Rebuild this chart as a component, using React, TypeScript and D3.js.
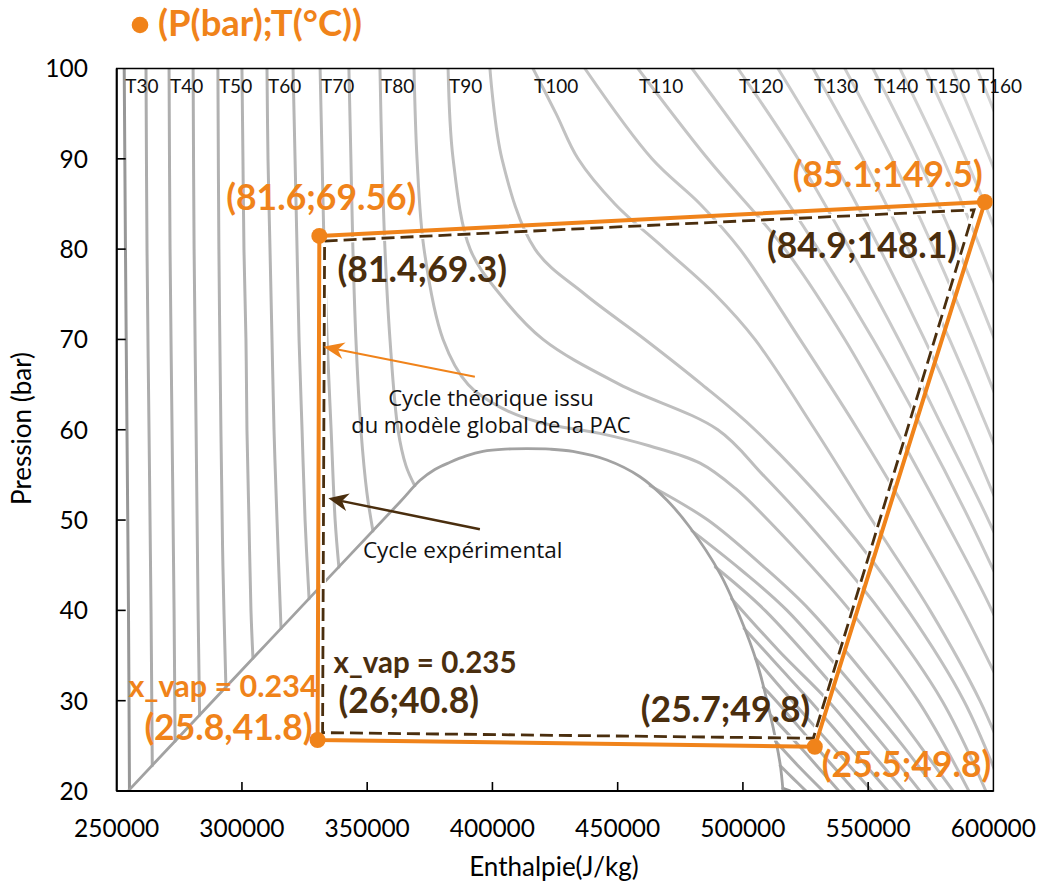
import React from 'react';
import * as d3 from 'd3';

type Pt = [number, number];

// ---------- axes ----------
const H_DOMAIN: [number, number] = [250000, 600000];
const P_DOMAIN: [number, number] = [20, 100];
const xTicks = [250000, 300000, 350000, 400000, 450000, 500000, 550000, 600000];
const yTicks = [20, 30, 40, 50, 60, 70, 80, 90, 100];
const labeledT = [30, 40, 50, 60, 70, 80, 90, 100, 110, 120, 130, 140, 150, 160];

// ---------- saturation dome (h J/kg, P bar) ----------
const dome: Pt[] = [
  [254900, 20.1], [300000, 33.4], [340000, 45.2], [363100, 52.0], [371100, 54.4], [377000, 55.6],
  [383100, 56.4], [389500, 57.1], [396200, 57.6], [405000, 57.85], [413800, 57.9], [423000, 57.85],
  [432100, 57.6], [445700, 56.65], [458900, 54.8], [469700, 52.2],
  [478800, 49.2], [490800, 44.1], [498800, 39.3], [505600, 34.2], [510800, 28.6], [514800, 23.1], [516000, 20],
];

// ---------- isotherms (each: list of segments of [h, P]) ----------
const iso30: Pt[][] = [
  [[253000, 100], [253500, 80], [254100, 60], [254700, 40], [255100, 20]],
  [[516000, 20.3], [518800, 20]],
];
const iso35: Pt[][] = [
  [[261700, 100], [262100, 80], [262900, 60], [263700, 40], [264200, 22.8]],
  [[514900, 22.8], [520000, 21.4], [525200, 20]],
];
const iso40: Pt[][] = [
  [[270900, 100], [271300, 80], [272100, 60], [272900, 40], [273300, 25.5]],
  [[513000, 25.5], [522000, 22.8], [532000, 20]],
];
const iso45: Pt[][] = [
  [[280500, 100], [280900, 80], [281700, 60], [282500, 40], [283100, 28.4]],
  [[511000, 28.4], [522400, 25], [538300, 20]],
];
const iso50: Pt[][] = [
  [[290400, 100], [290800, 80], [291600, 60], [292400, 45], [293600, 31.5]],
  [[508100, 31.5], [513200, 30], [528800, 25], [544700, 20]],
];
const iso55: Pt[][] = [
  [[300000, 100], [300400, 90], [300800, 80], [301600, 70], [302000, 60], [302800, 50], [303600, 40], [304400, 34.7]],
  [[505000, 34.7], [519600, 30], [535500, 25], [551500, 20]],
];
const iso60: Pt[][] = [
  [[310000, 100], [310400, 90], [311200, 80], [312000, 70], [312800, 60], [314000, 50], [315600, 38]],
  [[500500, 38], [513600, 34], [526800, 30], [542300, 25], [557900, 20]],
];
const iso65: Pt[][] = [
  [[320400, 100], [321200, 90], [322000, 80], [322800, 70], [324000, 60], [325200, 50], [326800, 41.3]],
  [[495500, 41.3], [514400, 35.5], [534000, 30], [549100, 25], [564300, 20]],
];
const iso70: Pt[][] = [
  [[331200, 100], [332000, 90], [332800, 80], [334000, 70], [335600, 60], [337200, 50], [338700, 44.8]],
  [[489000, 44.8], [508800, 40], [541100, 30], [556300, 25], [570700, 20]],
];
const iso75: Pt[][] = [
  [[342700, 100], [343500, 90], [344300, 80], [345500, 70], [347500, 60], [349900, 53], [352300, 48.8]],
  [[479700, 48.8], [499200, 44.5], [517600, 40], [549100, 30], [563900, 25], [577500, 20]],
];
const iso80: Pt[][] = [
  [[355100, 100], [355900, 90], [357100, 80], [359100, 70], [362300, 60], [365500, 56], [369000, 53.8]],
  [[463000, 53.8], [486000, 50], [507600, 45], [526800, 40], [557100, 30], [570700, 25], [583900, 20]],
];
const iso85: Pt[][] = [
  [[368700, 100], [369900, 90], [372700, 80], [380300, 70], [390300, 65], [403000, 62.5], [419000, 60.8],
   [442900, 59.6], [462900, 58.2], [482900, 56.3], [497000, 53.5], [510000, 50], [542700, 40], [569900, 30], [590200, 20]],
];
const iso90: Pt[][] = [
  [[382300, 100], [384300, 90], [391100, 80], [403000, 75], [420200, 70], [450900, 65], [490000, 60],
   [508000, 55], [524800, 50], [554700, 40], [579500, 30], [597000, 20]],
];
const iso95: Pt[][] = [
  [[399000, 100], [403800, 90], [417000, 80], [436900, 75], [460900, 70], [483700, 65], [504800, 60],
   [538700, 50], [565900, 40], [588200, 30], [603800, 20]],
];
const iso100: Pt[][] = [
  [[416200, 100], [425400, 95], [434200, 90], [448900, 85], [468900, 80], [488800, 75], [504800, 70],
   [528800, 60], [551500, 50], [574700, 40], [594600, 30], [609800, 20]],
];
const iso105: Pt[][] = [
  [[436900, 100], [463700, 90], [482900, 85], [498800, 80], [522800, 70], [545900, 60], [567500, 50], [587800, 40], [605800, 30]],
];
const iso110: Pt[][] = [
  [[458100, 100], [486000, 90], [516800, 80], [540700, 70], [561100, 60], [580700, 50], [599400, 40], [614600, 30]],
];
const iso115: Pt[][] = [
  [[479700, 100], [506000, 90], [530000, 80], [552000, 70], [572000, 60], [590500, 50], [607500, 40]],
];
const iso120: Pt[][] = [
  [[498000, 100], [522000, 90], [542700, 80], [562200, 70], [580200, 60], [598000, 50], [614000, 40]],
];
const iso125: Pt[][] = [
  [[514000, 100], [535500, 90], [554700, 80], [572500, 70], [589000, 60], [604300, 50]],
];
const iso130: Pt[][] = [
  [[528000, 100], [547900, 90], [565900, 80], [582500, 70], [597900, 60], [612200, 50]],
];
const iso135: Pt[][] = [
  [[540700, 100], [559500, 90], [576300, 80], [591800, 70], [606200, 60]],
];
const iso140: Pt[][] = [
  [[551900, 100], [569900, 90], [585800, 80], [600500, 70], [614200, 60]],
];
const iso145: Pt[][] = [
  [[562700, 100], [579900, 90], [595000, 80], [609000, 70]],
];
const iso150: Pt[][] = [
  [[572700, 100], [589000, 90], [603800, 80], [617400, 70]],
];
const iso155: Pt[][] = [
  [[583500, 100], [598600, 90], [612600, 80]],
];
const iso160: Pt[][] = [
  [[593400, 100], [607800, 90], [621000, 80]],
];

const isotherms: { T: number; segs: Pt[][] }[] = [
  { T: 30, segs: iso30 }, { T: 35, segs: iso35 }, { T: 40, segs: iso40 }, { T: 45, segs: iso45 },
  { T: 50, segs: iso50 }, { T: 55, segs: iso55 }, { T: 60, segs: iso60 }, { T: 65, segs: iso65 },
  { T: 70, segs: iso70 }, { T: 75, segs: iso75 }, { T: 80, segs: iso80 }, { T: 85, segs: iso85 },
  { T: 90, segs: iso90 }, { T: 95, segs: iso95 }, { T: 100, segs: iso100 }, { T: 105, segs: iso105 },
  { T: 110, segs: iso110 }, { T: 115, segs: iso115 }, { T: 120, segs: iso120 }, { T: 125, segs: iso125 },
  { T: 130, segs: iso130 }, { T: 135, segs: iso135 }, { T: 140, segs: iso140 }, { T: 145, segs: iso145 },
  { T: 150, segs: iso150 }, { T: 155, segs: iso155 }, { T: 160, segs: iso160 },
];

// ---------- cycles: [top-left, top-right, bottom-right, bottom-left] ----------
const theoCycle: Pt[] = [[330900, 81.46], [596600, 85.22], [528700, 24.9], [330200, 25.65]];
const expCycle: Pt[] = [[333000, 80.9], [592300, 84.35], [528100, 25.84], [332200, 26.46]];
const theoLabels = ['(81.6;69.56)', '(85.1;149.5)', '(25.5;49.8)', '(25.8,41.8)'];
const expLabels = ['(81.4;69.3)', '(84.9;148.1)', '(25.7;49.8)', '(26;40.8)'];
const theoQuality = 'x_vap = 0.234';
const expQuality = 'x_vap = 0.235';
const legendLabel = '(P(bar);T(°C))';

// ---------- annotations ----------
const theoNote = ['Cycle théorique issu', 'du modèle global de la PAC'];
const expNote = 'Cycle expérimental';
const theoArrow: Pt[] = [[393000, 65.88], [332500, 69.2]];
const expArrow: Pt[] = [[395000, 48.98], [334500, 52.41]];

export default function App() {
  const W = 1044, H = 886;
  const L = 116.7, R = 993.4, T = 68.5, B = 791;
  const x = d3.scaleLinear().domain(H_DOMAIN).range([L, R]);
  const y = d3.scaleLinear().domain(P_DOMAIN).range([B, T]);
  const curve = d3.line<Pt>().x(d => x(d[0])).y(d => y(d[1])).curve(d3.curveCatmullRom.alpha(0.5));
  const poly = d3.line<Pt>().x(d => x(d[0])).y(d => y(d[1])).curve(d3.curveLinearClosed);
  const grey = d3.scaleLinear<string>().domain([30, 35, 160]).range(['#979797', '#acacac', '#d6d6d6']).interpolate(d3.interpolateRgb);

  const ORANGE = '#F0831A';
  const BROWN = '#4A2E0E';
  const fC = 'Lato, "Noto Sans", sans-serif';
  const fA = '"Open Sans", "Noto Sans", sans-serif';

  const tp = theoCycle.map(d => [x(d[0]), y(d[1])]);
  const ep = expCycle.map(d => [x(d[0]), y(d[1])]);

  const arrow = (a: Pt[], color: string, w: number, len: number, half: number) => {
    const x1 = x(a[0][0]), y1 = y(a[0][1]), x2 = x(a[1][0]), y2 = y(a[1][1]);
    const dx = x2 - x1, dy = y2 - y1, n = Math.hypot(dx, dy);
    const ux = dx / n, uy = dy / n, px = -uy, py = ux;
    const bx = x2 - ux * len, by = y2 - uy * len;
    const nx = x2 - ux * len * 0.7, ny = y2 - uy * len * 0.7;
    const head = `M${x2},${y2}L${bx + px * half},${by + py * half}L${nx},${ny}L${bx - px * half},${by - py * half}Z`;
    return (
      <g>
        <line x1={x1} y1={y1} x2={nx} y2={ny} stroke={color} strokeWidth={w} />
        <path d={head} fill={color} />
      </g>
    );
  };

  return (
    <svg width={W} height={H} style={{ position: 'absolute', left: 0, top: 0, background: '#fff' }}>
      <defs>
        <clipPath id="plot">
          <rect x={L} y={T} width={R - L} height={B - T} />
        </clipPath>
      </defs>
      <rect x={0} y={0} width={W} height={H} fill="#fff" />

      {/* isotherms */}
      <g clipPath="url(#plot)" fill="none" strokeWidth={3} strokeLinecap="round">
        {isotherms.map(iso =>
          iso.segs.map((s, i) => (
            <path key={`${iso.T}-${i}`} d={curve(s) || ''} stroke={grey(iso.T)} />
          ))
        )}
        <path d={curve(dome) || ''} stroke="#a2a2a2" strokeWidth={2.8} />
      </g>

      {/* isotherm labels */}
      {isotherms.filter(d => labeledT.includes(d.T)).map(d => (
        <text key={d.T} x={x(d.segs[0][0][0]) + 1} y={T + 24.5} fontFamily={fC} fontSize={19} fill="#111">
          {`T${d.T}`}
        </text>
      ))}

      {/* frame & axes */}
      <rect x={L} y={T} width={R - L} height={B - T} fill="none" stroke="#000" strokeWidth={1.5} />
      <line x1={L} y1={T} x2={L} y2={B} stroke="#000" strokeWidth={2} />
      <line x1={L} y1={B} x2={R} y2={B} stroke="#000" strokeWidth={2} />
      {yTicks.map(v => (
        <g key={v}>
          {v > 20 && v < 100 && <line x1={L} x2={L + 9} y1={y(v)} y2={y(v)} stroke="#000" strokeWidth={1.6} />}
          <text x={88} y={y(v)} dy="0.36em" textAnchor="end" fontFamily={fC} fontSize={24.5} fill="#000">{v}</text>
        </g>
      ))}
      {xTicks.map(v => (
        <g key={v}>
          {v > 250000 && v < 600000 && <line x1={x(v)} x2={x(v)} y1={B} y2={B - 9} stroke="#000" strokeWidth={1.6} />}
          <text x={x(v)} y={837} textAnchor="middle" fontFamily={fC} fontSize={24.5} fill="#000">{v}</text>
        </g>
      ))}
      <text x={554} y={876} textAnchor="middle" fontFamily={fC} fontSize={26} fill="#000">Enthalpie(J/kg)</text>
      <text transform="translate(31,428.5) rotate(-90)" textAnchor="middle" fontFamily={fC} fontSize={26} fill="#000">Pression (bar)</text>

      {/* experimental cycle (dashed) */}
      <path d={poly(expCycle) || ''} fill="none" stroke="#fff" strokeWidth={5.5} />
      <path d={poly(expCycle) || ''} fill="none" stroke={BROWN} strokeWidth={2.8} strokeDasharray="13,6" />

      {/* theoretical cycle */}
      <path d={poly(theoCycle) || ''} fill="none" stroke={ORANGE} strokeWidth={4} strokeLinejoin="round" />
      {tp.map((p, i) => <circle key={i} cx={p[0]} cy={p[1]} r={8} fill={ORANGE} />)}

      {/* arrows */}
      {arrow(theoArrow, ORANGE, 2, 21, 8.5)}
      {arrow(expArrow, BROWN, 2.5, 20, 9)}

      {/* annotations */}
      <g fontFamily={fA} fontSize={22} fill="#111" textAnchor="middle">
        <text x={x(399400)} y={y(62.63)}>{theoNote[0]}</text>
        <text x={x(399400)} y={y(59.64)}>{theoNote[1]}</text>
      </g>
      <text x={x(348300)} y={y(45.8)} fontFamily={fA} fontSize={22.5} fill="#111">{expNote}</text>

      {/* theoretical labels */}
      <g fontFamily={fC} fontWeight="bold" fill={ORANGE}>
        <text x={tp[0][0] + 2} y={tp[0][1] - 26} fontSize={35.5} textAnchor="middle">{theoLabels[0]}</text>
        <text x={tp[1][0] - 2} y={tp[1][1] - 15} fontSize={35.5} textAnchor="end">{theoLabels[1]}</text>
        <text x={tp[2][0] + 7} y={tp[2][1] + 30} fontSize={35.5} textAnchor="start">{theoLabels[2]}</text>
        <text x={tp[3][0] - 5} y={tp[3][1]} fontSize={35.5} textAnchor="end">{theoLabels[3]}</text>
        <text x={tp[3][0]} y={tp[3][1] - 43} fontSize={30.5} textAnchor="end">{theoQuality}</text>
      </g>

      {/* experimental labels */}
      <g fontFamily={fC} fontWeight="bold" fill={BROWN}>
        <text x={ep[0][0] + 13} y={ep[0][1] + 41} fontSize={35.5} textAnchor="start">{expLabels[0]}</text>
        <text x={ep[1][0] - 17} y={ep[1][1] + 48} fontSize={35.5} textAnchor="end">{expLabels[1]}</text>
        <text x={ep[2][0] - 3} y={ep[2][1] - 16} fontSize={35.5} textAnchor="end">{expLabels[2]}</text>
        <text x={ep[3][0] + 16} y={ep[3][1] - 20} fontSize={35.5} textAnchor="start">{expLabels[3]}</text>
        <text x={ep[3][0] + 11} y={ep[3][1] - 60} fontSize={29.5} textAnchor="start">{expQuality}</text>
      </g>

      {/* legend */}
      <circle cx={140} cy={25} r={8.3} fill={ORANGE} />
      <text x={158} y={36} fontFamily={fC} fontWeight="bold" fontSize={36.5} fill={ORANGE}>{legendLabel}</text>
    </svg>
  );
}
